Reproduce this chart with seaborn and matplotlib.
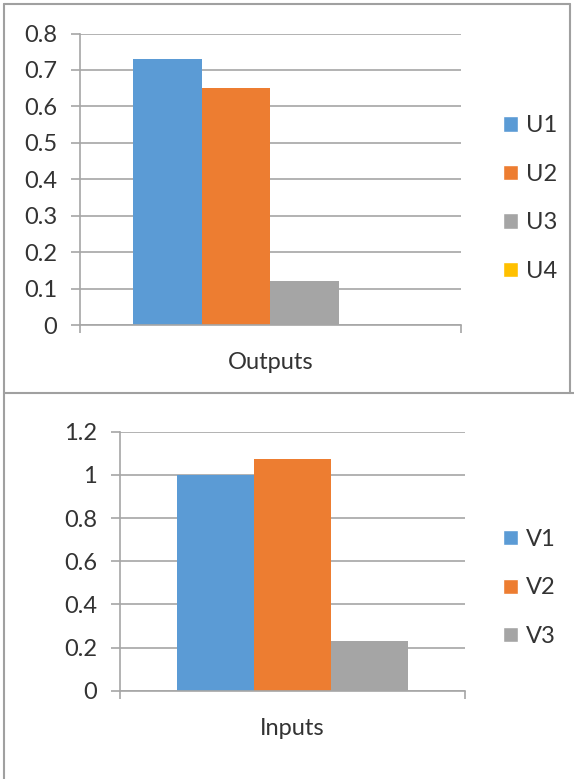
import matplotlib
matplotlib.use("Agg")
import matplotlib.pyplot as plt
from matplotlib.lines import Line2D
from matplotlib.ticker import MultipleLocator, FixedLocator
import seaborn as sns
import pandas as pd

# Output weights
out_category = ["Outputs"]
out_series = ["U1", "U2", "U3", "U4"]
out_values = [0.73, 0.65, 0.12, 0.0]

# Input weights
in_category = ["Inputs"]
in_series = ["V1", "V2", "V3"]
in_values = [1.0, 1.075, 0.23]

palette = ["#5B9BD5", "#ED7D31", "#A5A5A5", "#FFC000"]
grid_col = "#A6A6A6"
border_col = "#A0A0A0"

sns.set_theme(style="white")
plt.rcParams["font.family"] = ["Lato", "DejaVu Sans"]
plt.rcParams["text.color"] = "#333333"

FS = 17
W, H = 574, 779
fig = plt.figure(figsize=(W / 100, H / 100), dpi=100)


def px_axes(left, top, right, bottom):
    return fig.add_axes([left / W, 1 - bottom / H, (right - left) / W, (bottom - top) / H])


def draw_panel(ax, category, series, values, colors, width, ymax, ystep, leg_y):
    df = pd.DataFrame({"cat": category * len(series), "series": series, "value": values})
    sns.barplot(data=df, x="cat", y="value", hue="series", palette=colors[:len(series)],
                width=width, saturation=1, ax=ax, legend=True)
    ax.set_xlim(-0.5, 0.5)
    ax.set_ylim(0, ymax)
    ax.yaxis.set_major_locator(MultipleLocator(ystep))
    ax.yaxis.set_major_formatter(matplotlib.ticker.FuncFormatter(lambda v, p: f"{v:g}"))
    ax.grid(axis="y", color=grid_col, linewidth=1.2)
    ax.set_axisbelow(True)
    for s in ["top", "right"]:
        ax.spines[s].set_visible(False)
    for s in ["left", "bottom"]:
        ax.spines[s].set_color(grid_col)
        ax.spines[s].set_linewidth(1.2)
    ax.set_xlabel("")
    ax.set_ylabel("")
    ax.tick_params(axis="y", left=True, length=9 * 0.72, width=1.2, color=grid_col,
                   labelsize=FS, pad=10, labelcolor="#333333")
    ax.tick_params(axis="x", which="major", length=0, labelsize=FS, pad=19.5, labelcolor="#333333")
    ax.xaxis.set_minor_locator(FixedLocator([-0.5, 0.5]))
    ax.tick_params(axis="x", which="minor", bottom=True, length=8 * 0.72, width=1.2, color=grid_col)
    for p in ax.patches:
        p.set_edgecolor("none")
    leg = ax.get_legend()
    handles = leg.legend_handles
    labels = [t.get_text() for t in leg.get_texts()]
    leg.remove()
    fig.legend(handles, labels, loc="center left", bbox_to_anchor=(494 / W, 1 - leg_y / H),
               frameon=False, fontsize=FS, handlelength=0.62, handleheight=0.62,
               handletextpad=0.35, labelspacing=1.16, borderaxespad=0)


ax1 = px_axes(80, 33.5, 460.7, 325)
draw_panel(ax1, out_category, out_series, out_values, palette, 0.722, 0.8, 0.1, 198.5)

ax2 = px_axes(120, 431.7, 465, 690.7)
draw_panel(ax2, in_category, in_series, in_values, palette, 0.667, 1.2, 0.2, 588)

# Panel frames
for xs, ys in [([4, 4], [4, 779]), ([4, 570], [4, 4]), ([570, 570], [4, 393]),
               ([4, 574], [393, 393])]:
    fig.add_artist(Line2D([x / W for x in xs], [1 - y / H for y in ys],
                          color=border_col, linewidth=1.5, transform=fig.transFigure))

fig.savefig("out.png", dpi=100)
